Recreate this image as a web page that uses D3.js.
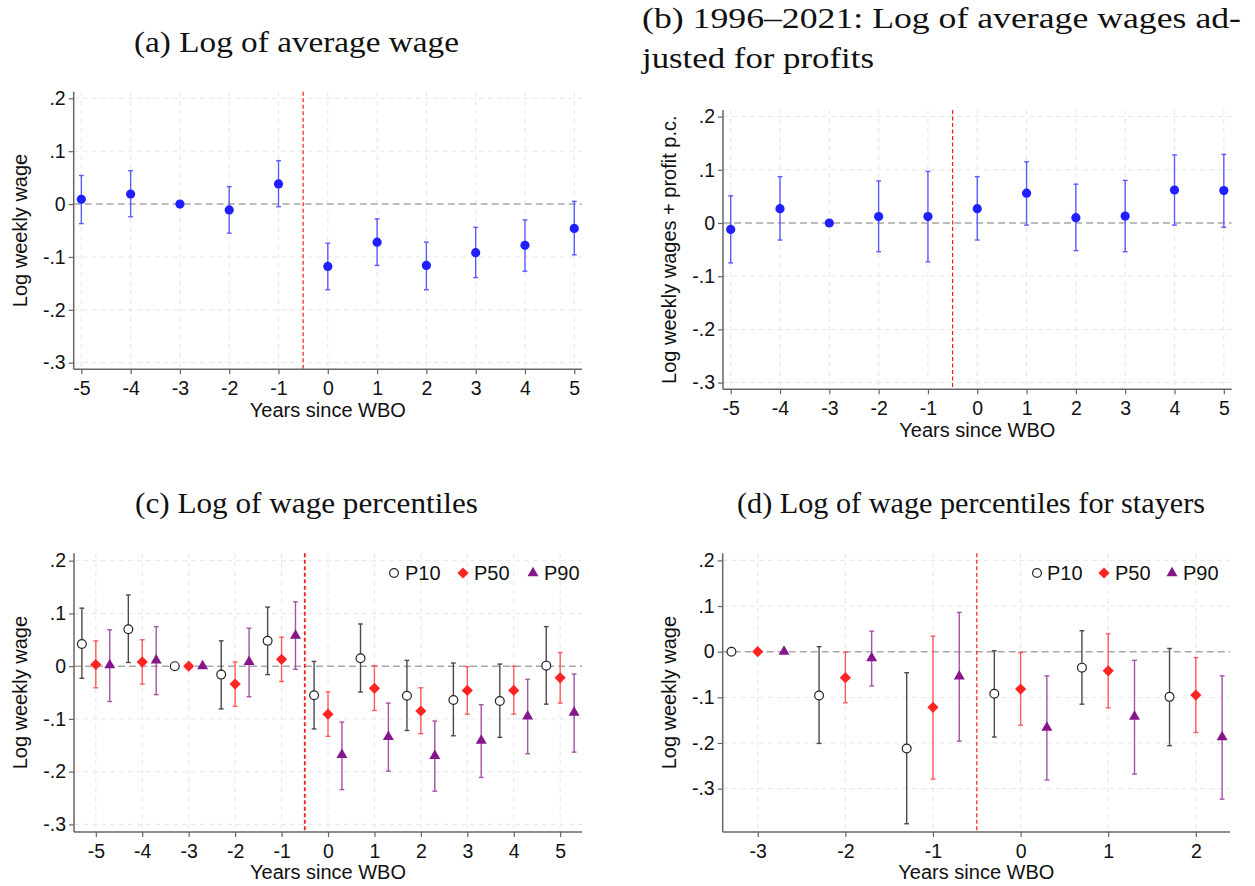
<!DOCTYPE html>
<html>
<head>
<meta charset="utf-8">
<script src="https://cdn.jsdelivr.net/npm/d3@7"></script>
<style>
  html, body { margin: 0; padding: 0; background: #fff; }
  svg { display: block; }
</style>
</head>
<body>
<svg id="chart" width="1255" height="886"></svg>
<script>
// ---------------- DATA ----------------
const yearsAB = [-5, -4, -3, -2, -1, 0, 1, 2, 3, 4, 5];

// (a) Log of average wage
const avgWage   = [0.009, 0.019, 0, -0.011, 0.038, -0.118, -0.072, -0.116, -0.092, -0.078, -0.046];
const avgWageHi = [0.054, 0.063, null, 0.033, 0.082, -0.074, -0.028, -0.072, -0.044, -0.030, 0.005];
const avgWageLo = [-0.037, -0.024, null, -0.055, -0.005, -0.162, -0.116, -0.162, -0.139, -0.127, -0.096];

// (b) Log of average wages adjusted for profits
const profWage   = [-0.012, 0.027, 0, 0.012, 0.012, 0.027, 0.056, 0.010, 0.013, 0.062, 0.061];
const profWageHi = [0.051, 0.087, null, 0.079, 0.097, 0.087, 0.115, 0.073, 0.080, 0.128, 0.129];
const profWageLo = [-0.075, -0.032, null, -0.054, -0.073, -0.032, -0.004, -0.052, -0.054, -0.004, -0.008];

// (c) Log of wage percentiles
const yearsC = [-5, -4, -3, -2, -1, 0, 1, 2, 3, 4, 5];
const p10C   = [0.042, 0.070, 0, -0.016, 0.048, -0.055, 0.015, -0.056, -0.064, -0.066, 0.001];
const p10CHi = [0.110, 0.135, null, 0.048, 0.112, 0.009, 0.080, 0.011, 0.006, 0.004, 0.075];
const p10CLo = [-0.023, 0.007, null, -0.081, -0.016, -0.119, -0.049, -0.122, -0.132, -0.135, -0.072];
const p50C   = [0.003, 0.008, 0, -0.034, 0.013, -0.091, -0.042, -0.085, -0.046, -0.046, -0.022];
const p50CHi = [0.048, 0.050, null, 0.008, 0.055, -0.049, 0.001, -0.041, -0.001, 0.000, 0.026];
const p50CLo = [-0.041, -0.034, null, -0.076, -0.029, -0.133, -0.084, -0.128, -0.091, -0.091, -0.070];
const p90C   = [0.002, 0.011, 0, 0.008, 0.058, -0.168, -0.134, -0.170, -0.141, -0.095, -0.088];
const p90CHi = [0.069, 0.075, null, 0.072, 0.122, -0.106, -0.070, -0.104, -0.073, -0.025, -0.015];
const p90CLo = [-0.067, -0.054, null, -0.058, -0.006, -0.234, -0.199, -0.237, -0.211, -0.166, -0.163];

// (d) Log of wage percentiles for stayers
const yearsD = [-3, -2, -1, 0, 1, 2];
const p10D   = [0, -0.096, -0.212, -0.092, -0.035, -0.099];
const p10DHi = [null, 0.011, -0.046, 0.002, 0.046, 0.007];
const p10DLo = [null, -0.201, -0.377, -0.187, -0.115, -0.206];
const p50D   = [0, -0.057, -0.122, -0.082, -0.042, -0.095];
const p50DHi = [null, -0.001, 0.034, -0.002, 0.039, -0.013];
const p50DLo = [null, -0.112, -0.279, -0.161, -0.123, -0.177];
const p90D   = [0, -0.014, -0.054, -0.166, -0.142, -0.187];
const p90DHi = [null, 0.045, 0.086, -0.053, -0.019, -0.053];
const p90DLo = [null, -0.075, -0.196, -0.281, -0.268, -0.323];

// tick values / labels
const xTicksAB = [-5, -4, -3, -2, -1, 0, 1, 2, 3, 4, 5];
const xTicksD = [-3, -2, -1, 0, 1, 2];
const yTicks = [0.2, 0.1, 0, -0.1, -0.2, -0.3];
const yTickLabels = [".2", ".1", "0", "-.1", "-.2", "-.3"];
const legendLabels = ["P10", "P50", "P90"];

// texts
const titleA = "(a) Log of average wage";
const titleB1 = "(b) 1996\u20132021:  Log of average wages ad-";
const titleB2 = "justed for profits";
const titleC = "(c) Log of wage percentiles";
const titleD = "(d) Log of wage percentiles for stayers";
const xLabel = "Years since WBO";
const yLabelA = "Log weekly wage";
const yLabelB = "Log weekly wages + profit p.c.";

// ---------------- DRAW ----------------
const svg = d3.select("#chart");
const SANS = "'Liberation Sans', Arial, sans-serif";
const SERIF = "'Liberation Serif', 'Times New Roman', serif";

const blue = "#1f1fff", blueBar = "#5a5aff";
const black = "#222", blackBar = "#4a4a4a";
const red = "#ff2424", redBar = "#ff5a5a";
const purple = "#86168a", purpleBar = "#a552a8";

function yFmt(d) {
  const i = yTicks.indexOf(d);
  return i >= 0 ? yTickLabels[i] : String(d);
}

function drawMarker(g, type, cx, cy, color) {
  if (type === "dot") {
    g.append("circle").attr("cx", cx).attr("cy", cy).attr("r", 4.6).attr("fill", color);
  } else if (type === "hollow") {
    g.append("circle").attr("cx", cx).attr("cy", cy).attr("r", 4.4)
      .attr("fill", "#fff").attr("stroke", color).attr("stroke-width", 1.2);
  } else if (type === "diamond") {
    const r = 5.6;
    g.append("path").attr("d", `M${cx},${cy - r}L${cx + r},${cy}L${cx},${cy + r}L${cx - r},${cy}Z`).attr("fill", color);
  } else if (type === "triangle") {
    const h = 9.5, w = 11;
    g.append("path").attr("d", `M${cx},${cy - h * 2 / 3}L${cx + w / 2},${cy + h / 3}L${cx - w / 2},${cy + h / 3}Z`).attr("fill", color);
  }
}

function panel(cfg) {
  const g = svg.append("g");
  const x = d3.scaleLinear().domain(cfg.xDomain).range([cfg.left, cfg.right]);
  const y = d3.scaleLinear().domain(cfg.yDomain).range([cfg.bottom, cfg.top]);

  // grid
  const grid = g.append("g").attr("stroke", "#e6e6e6").attr("stroke-width", 1).attr("stroke-dasharray", "5,4");
  cfg.yTicks.forEach(t => {
    if (t === 0) return;
    grid.append("line").attr("x1", cfg.left).attr("x2", cfg.right).attr("y1", y(t)).attr("y2", y(t));
  });
  cfg.xTicks.forEach(t => {
    grid.append("line").attr("x1", x(t)).attr("x2", x(t)).attr("y1", cfg.top).attr("y2", cfg.bottom);
  });

  // zero line
  g.append("line").attr("x1", cfg.left).attr("x2", cfg.right).attr("y1", y(0)).attr("y2", y(0))
    .attr("stroke", "#a8a8a8").attr("stroke-width", 1.5).attr("stroke-dasharray", "7,4");

  // event line
  g.append("line").attr("x1", x(-0.5)).attr("x2", x(-0.5)).attr("y1", cfg.top).attr("y2", cfg.bottom)
    .attr("stroke", "#ff1a1a").attr("stroke-width", cfg.vWidth || 1.2).attr("stroke-dasharray", "4,2.5");

  // axes
  const yAxis = d3.axisLeft(y).tickValues(cfg.yTicks).tickFormat(yFmt).tickSize(5).tickPadding(3);
  const xAxis = d3.axisBottom(x).tickValues(cfg.xTicks).tickFormat(d => String(d)).tickSize(5).tickPadding(3);
  const ya = g.append("g").attr("transform", `translate(${cfg.left},0)`).call(yAxis);
  const xa = g.append("g").attr("transform", `translate(0,${cfg.bottom})`).call(xAxis);
  [ya, xa].forEach(a => {
    a.select(".domain").attr("stroke", "#666").attr("stroke-width", 1.5)
      .attr("d", a === ya ? `M0,${cfg.top}V${cfg.bottom}` : `M${cfg.left},0H${cfg.right}`);
    a.selectAll(".tick line").attr("stroke", "#666").attr("stroke-width", 1.2);
    a.selectAll(".tick text").attr("fill", "#111").style("font-size", "19.5px").style("font-family", SANS);
  });
  xa.selectAll(".tick text").attr("dy", "0.9em");

  // series
  cfg.series.forEach(s => {
    const sg = g.append("g");
    s.xs.forEach((xv, i) => {
      const cx = x(xv + s.offset);
      if (s.hi[i] !== null && s.lo[i] !== null) {
        const y1 = y(s.hi[i]), y2 = y(s.lo[i]);
        sg.append("line").attr("x1", cx).attr("x2", cx).attr("y1", y1).attr("y2", y2)
          .attr("stroke", s.barColor).attr("stroke-width", 1.4);
        [y1, y2].forEach(yy => sg.append("line").attr("x1", cx - 2.4).attr("x2", cx + 2.4)
          .attr("y1", yy).attr("y2", yy).attr("stroke", s.barColor).attr("stroke-width", 1.4));
      }
    });
    s.xs.forEach((xv, i) => drawMarker(sg, s.marker, x(xv + s.offset), y(s.vals[i]), s.color));
  });

  // legend
  if (cfg.legend) {
    cfg.legend.forEach(l => {
      drawMarker(g, l.marker, l.mx, l.y, l.color);
      g.append("text").attr("x", l.tx).attr("y", l.y).attr("dy", "0.36em")
        .style("font-family", SANS).style("font-size", "20px").attr("fill", "#111").text(l.label);
    });
  }

  // axis titles
  g.append("text").attr("x", (cfg.left + cfg.right) / 2).attr("y", cfg.bottom + 40).attr("dy", "0.36em")
    .attr("text-anchor", "middle").style("font-family", SANS).style("font-size", "20px").attr("fill", "#111")
    .text(xLabel);
  g.append("text").attr("transform", `translate(${cfg.left - 54},${(cfg.top + cfg.bottom) / 2}) rotate(-90)`)
    .attr("dy", "0.36em").attr("text-anchor", "middle")
    .style("font-family", SANS).style("font-size", "20px").attr("fill", "#111").text(cfg.yLabel);
}

const stdMarkers = (xs, a, aHi, aLo, b, bHi, bLo, c, cHi, cLo) => [
  { xs, vals: a, hi: aHi, lo: aLo, offset: -0.3, marker: "hollow", color: black, barColor: blackBar },
  { xs, vals: b, hi: bHi, lo: bLo, offset: 0, marker: "diamond", color: red, barColor: redBar },
  { xs, vals: c, hi: cHi, lo: cLo, offset: 0.3, marker: "triangle", color: purple, barColor: purpleBar }
];

panel({
  left: 73.7, right: 582, top: 91.7, bottom: 369.3,
  xDomain: [-5.155, 5.157], yDomain: [-0.3125, 0.2125],
  xTicks: xTicksAB, yTicks, yLabel: yLabelA,
  series: [{ xs: yearsAB, vals: avgWage, hi: avgWageHi, lo: avgWageLo, offset: 0, marker: "dot", color: blue, barColor: blueBar }]
});

panel({
  left: 723, right: 1231.7, top: 110, bottom: 389.3,
  xDomain: [-5.156, 5.16], yDomain: [-0.3126, 0.2124],
  xTicks: xTicksAB, yTicks, yLabel: yLabelB,
  series: [{ xs: yearsAB, vals: profWage, hi: profWageHi, lo: profWageLo, offset: 0, marker: "dot", color: blue, barColor: blueBar }]
});

panel({
  left: 74, right: 582, top: 553.3, bottom: 832,
  xDomain: [-5.47, 5.47], yDomain: [-0.3144, 0.214],
  xTicks: xTicksAB, yTicks, yLabel: yLabelA, vWidth: 1.8,
  series: stdMarkers(yearsC, p10C, p10CHi, p10CLo, p50C, p50CHi, p50CLo, p90C, p90CHi, p90CLo),
  legend: [
    { marker: "hollow", color: black, mx: 394, tx: 405, y: 573, label: legendLabels[0] },
    { marker: "diamond", color: red, mx: 463, tx: 474, y: 573, label: legendLabels[1] },
    { marker: "triangle", color: purple, mx: 533, tx: 544, y: 573, label: legendLabels[2] }
  ]
});

panel({
  left: 722.7, right: 1230, top: 553.3, bottom: 832,
  xDomain: [-3.40, 2.39], yDomain: [-0.395, 0.2155],
  xTicks: xTicksD, yTicks, yLabel: yLabelA,
  series: stdMarkers(yearsD, p10D, p10DHi, p10DLo, p50D, p50DHi, p50DLo, p90D, p90DHi, p90DLo),
  legend: [
    { marker: "hollow", color: black, mx: 1037, tx: 1047, y: 573, label: legendLabels[0] },
    { marker: "diamond", color: red, mx: 1104, tx: 1115, y: 573, label: legendLabels[1] },
    { marker: "triangle", color: purple, mx: 1172, tx: 1183, y: 573, label: legendLabels[2] }
  ]
});

// panel titles (serif)
function title(txt, x, y, anchor, len) {
  const t = svg.append("text").attr("x", x).attr("y", y).attr("text-anchor", anchor)
    .style("font-family", SERIF).style("font-size", "29px").attr("fill", "#111").text(txt);
  if (len) t.attr("textLength", len).attr("lengthAdjust", "spacingAndGlyphs");
}
title(titleA, 134, 52, "start", 325);
title(titleB1, 642, 28, "start", 599);
title(titleB2, 642, 68, "start", 232);
title(titleC, 135, 513, "start", 343);
title(titleD, 737, 513, "start", 468);
</script>
</body>
</html>
